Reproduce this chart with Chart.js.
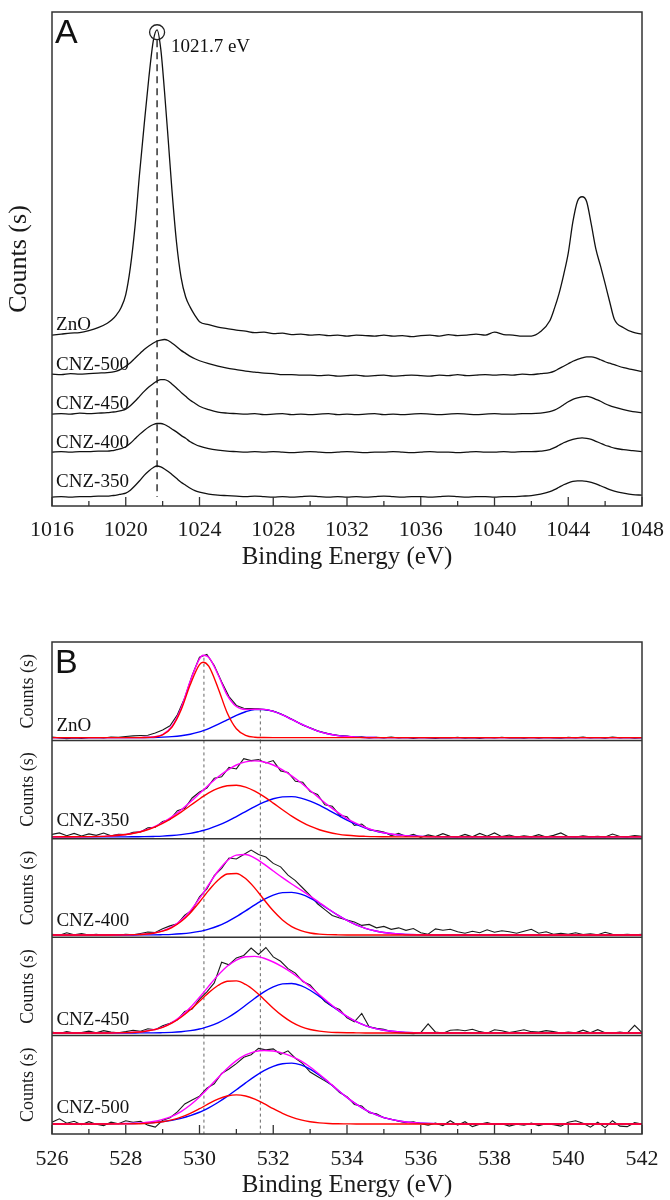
<!DOCTYPE html>
<html>
<head>
<meta charset="utf-8">
<title>XPS Zn 2p and O 1s spectra</title>
<script src="https://cdn.jsdelivr.net/npm/chart.js@4.4.1/dist/chart.umd.min.js"></script>
<style>
  html, body { margin: 0; padding: 0; background: #fff; }
  #wrap { position: relative; width: 670px; height: 1200px; overflow: hidden; }
  #chartA { position: absolute; left: 0; top: 0; }
  #chartB { position: absolute; left: 0; top: 600px; }
</style>
</head>
<body>
<div id="wrap">
  <canvas id="chartA" width="670" height="600"></canvas>
  <canvas id="chartB" width="670" height="600"></canvas>
</div>
<script>
// ---------- Panel A : Zn 2p (curves are stacked by the instrument offsets) ----------
const energyA = [
  1016, 1016.5, 1017, 1017.5, 1018, 1018.5, 1019,
  1019.25, 1019.5, 1019.75, 1020, 1020.25, 1020.5, 1020.75, 1021, 1021.25, 1021.5,
  1021.7, 1021.9, 1022.1, 1022.3, 1022.5,
  1022.75, 1023, 1023.25, 1023.5, 1023.75, 1024,
  1024.5, 1025, 1025.5, 1026, 1026.5, 1027, 1027.5, 1028, 1028.5, 1029, 1029.5, 1030, 1030.5,
  1031, 1031.5, 1032, 1032.5, 1033, 1033.5, 1034, 1034.5, 1035, 1035.5, 1036, 1036.5, 1037,
  1037.5, 1038, 1038.5, 1039, 1039.5, 1040, 1040.5, 1041, 1041.5, 1042, 1042.5,
  1043, 1043.25, 1043.5, 1043.75, 1044, 1044.25, 1044.5, 1044.75, 1045, 1045.25, 1045.5, 1045.75, 1046, 1046.25,
  1046.5, 1047, 1047.5, 1048
];
const zno2p = [
  34.6, 34.8, 35.0, 35.1, 35.5, 36.1, 37.0,
  37.7, 38.7, 40.2, 42.8, 48.3, 56.5, 67.3, 77.2, 86.6, 94.3,
  96.4, 92.5, 84.0, 74.3, 64.2,
  53.5, 46.3, 42.3, 40.2, 38.6, 37.3,
  36.7, 36.2, 35.9, 35.6, 35.4, 35.1, 35.2, 34.9, 35.0, 34.7, 34.8, 34.6, 34.7,
  34.5, 34.6, 34.4, 34.6, 34.5, 34.4, 34.6, 34.4, 34.5, 34.3, 34.5, 34.6, 34.4,
  34.7, 34.5, 34.6, 34.8, 34.6, 35.2, 34.7, 34.6, 34.4, 34.4, 35.3,
  37.5, 40.0, 43.0, 46.8, 51.2, 57.5, 61.7, 62.6, 61.6, 57.0, 52.0, 48.6, 45.0, 41.3,
  37.8, 36.1, 35.2, 34.8
];
const cnz500Zn = [
  26.7, 26.6, 26.8, 26.7, 26.8, 26.9, 27.0,
  27.1, 27.3, 27.7, 28.3, 29.0, 29.9, 30.8, 31.7, 32.4, 33.0,
  33.4, 33.6, 33.7, 33.5, 33.0,
  32.3, 31.5, 30.9, 30.3, 29.8, 29.4,
  28.8, 28.3, 27.9, 27.6, 27.3, 27.1, 26.9, 26.8, 26.6, 26.6, 26.5, 26.5, 26.4,
  26.5, 26.3, 26.4, 26.5, 26.3, 26.4, 26.5, 26.3, 26.4, 26.5, 26.4, 26.3, 26.5,
  26.4, 26.6, 26.4, 26.5, 26.6, 26.5, 26.6, 26.5, 26.7, 26.6, 26.8,
  27.0, 27.3, 27.8, 28.3, 28.8, 29.3, 29.7, 30.0, 30.2, 30.2, 30.0, 29.6, 29.2, 28.9,
  28.6, 28.0, 27.6, 27.2
];
const cnz450Zn = [
  18.6, 18.7, 18.6, 18.8, 18.7, 18.8, 18.9,
  19.0, 19.1, 19.3, 19.6, 20.3, 21.2, 22.2, 23.2, 24.1, 24.8,
  25.3, 25.6, 25.6, 25.3, 24.7,
  23.9, 23.0, 22.2, 21.4, 20.8, 20.2,
  19.5, 19.0, 18.8, 18.7, 18.6, 18.7, 18.5, 18.6, 18.7, 18.5, 18.6, 18.5, 18.6,
  18.7, 18.5, 18.6, 18.5, 18.6, 18.7, 18.5, 18.6, 18.5, 18.6, 18.7, 18.6, 18.5,
  18.6, 18.7, 18.6, 18.5, 18.6, 18.7, 18.6, 18.6, 18.7, 18.7, 18.8,
  19.1, 19.4, 19.9, 20.5, 21.1, 21.6, 21.9, 22.1, 22.2, 22.0, 21.6, 21.2, 20.7, 20.3,
  20.0, 19.5, 19.1, 18.9
];
const cnz400Zn = [
  10.9, 11.0, 10.9, 11.0, 11.0, 11.1, 11.1,
  11.2, 11.4, 11.6, 12.0, 12.7, 13.6, 14.5, 15.3, 16.0, 16.5,
  16.7, 16.7, 16.5, 16.1, 15.6,
  15.0, 14.3, 13.7, 13.0, 12.5, 12.1,
  11.6, 11.3, 11.1, 11.0, 10.9, 11.0, 10.9, 11.0, 10.9, 10.8, 10.9, 11.0, 10.9,
  10.8, 10.9, 11.0, 10.9, 10.8, 10.9, 10.9, 11.0, 10.9, 10.8, 10.9, 11.0, 10.9,
  10.9, 10.8, 10.9, 11.0, 10.9, 10.9, 11.0, 10.9, 11.0, 11.0, 11.1,
  11.4, 11.8, 12.3, 12.8, 13.2, 13.5, 13.7, 13.8, 13.7, 13.5, 13.1, 12.7, 12.3, 12.0,
  11.7, 11.4, 11.2, 11.0
];
const cnz350Zn = [
  1.8, 1.9, 1.8, 1.9, 1.9, 2.0, 2.0,
  2.1, 2.2, 2.4, 2.6, 3.2, 4.1, 5.1, 6.2, 7.1, 7.8,
  8.1, 7.9, 7.5, 7.0, 6.4,
  5.6, 4.8, 4.2, 3.6, 3.1, 2.8,
  2.4, 2.2, 2.1, 2.0, 1.9, 2.0, 1.9, 1.8, 1.9, 1.8, 1.9, 2.0, 1.9,
  1.8, 1.9, 1.8, 1.9, 1.8, 1.9, 2.0, 1.9, 1.8, 1.9, 1.9, 1.8, 1.9,
  2.0, 1.9, 1.8, 1.9, 1.9, 1.8, 1.9, 1.9, 2.0, 2.1, 2.4,
  2.9, 3.3, 3.8, 4.3, 4.7, 5.0, 5.1, 5.1, 5.0, 4.8, 4.5, 4.1, 3.7, 3.3,
  3.0, 2.6, 2.3, 2.2
];
const samplesA = ['ZnO', 'CNZ-500', 'CNZ-450', 'CNZ-400', 'CNZ-350'];
const labelLevelA = [35.6, 27.5, 19.6, 11.7, 3.8];
const ticksA = [1016, 1020, 1024, 1028, 1032, 1036, 1040, 1044, 1048];
const minorTicksA = [1018, 1022, 1026, 1030, 1034, 1038, 1042, 1046];
const peakEnergyA = 1021.7;
const peakMarkA = 95.9;
const dashSpanA = [94.3, 1.8];

// ---------- Panel B : O 1s, measured spectra and two-component fits ----------
const energyB = [
  526, 526.2, 526.4, 526.6, 526.8, 527, 527.2, 527.4, 527.6, 527.8,
  528, 528.2, 528.4, 528.6, 528.8, 529, 529.2, 529.4, 529.6, 529.8,
  530, 530.2, 530.4, 530.6, 530.8, 531, 531.2, 531.4, 531.6, 531.8,
  532, 532.2, 532.4, 532.6, 532.8, 533, 533.2, 533.4, 533.6, 533.8,
  534, 534.2, 534.4, 534.6, 534.8, 535, 535.2, 535.4, 535.6, 535.8,
  536, 536.2, 536.4, 536.6, 536.8, 537, 537.2, 537.4, 537.6, 537.8,
  538, 538.2, 538.4, 538.6, 538.8, 539, 539.2, 539.4, 539.6, 539.8,
  540, 540.2, 540.4, 540.6, 540.8, 541, 541.2, 541.4, 541.6, 541.8,
  542
];
const fitEnergyB = [
  526, 527, 527.5, 528, 528.25, 528.5, 528.75, 529, 529.25, 529.5, 529.75, 530, 530.1,
  530.25, 530.5, 530.75, 531, 531.25, 531.5, 531.75, 532, 532.25, 532.5, 532.75, 533,
  533.25, 533.5, 533.75, 534, 534.25, 534.5, 534.75, 535, 535.5, 536,
  537, 538, 539, 540, 541, 542
];

const oZnO = [
  3.5, 2.6, 1.8, 2.4, 1.9, 2.7, 3.0, 2.5, 3.4, 3.1,
  3.9, 4.6, 5.0, 5.3, 7.5, 10.6, 14.8, 26.0, 43.5, 66.0,
  84.5, 87.3, 76.0, 59.5, 44.5, 35.5, 32.6, 32.3, 32.1, 31.0,
  29.8, 27.2, 23.6, 19.8, 15.5, 12.9, 9.7, 7.8, 6.0, 5.0,
  4.3, 3.1, 3.6, 2.5, 3.2, 2.6, 3.4, 2.4, 2.9, 2.1,
  3.0, 2.6, 1.9, 2.8, 2.4, 3.1, 2.2, 2.8, 2.0, 2.9,
  2.5, 3.2, 2.4, 2.7, 2.2, 3.0, 2.3, 2.9, 2.5, 2.2,
  3.1, 2.6, 3.3, 2.4, 2.9, 2.3, 3.4, 2.6, 2.9, 2.3,
  2.8
];
const oZnORed = [
  2.8, 2.8, 2.8, 2.8, 2.8, 2.9, 3.3, 5.5, 13.2, 30.8, 56.8, 77.0, 79.4,
  75.4, 53.6, 28.1, 11.8, 5.1, 3.2, 2.9, 2.8, 2.8, 2.8, 2.8, 2.8,
  2.8, 2.8, 2.8, 2.8, 2.8, 2.8, 2.8, 2.8, 2.8, 2.8,
  2.8, 2.8, 2.8, 2.8, 2.8, 2.8
];
const oZnOBlue = [
  2.8, 2.8, 2.8, 2.8, 2.8, 2.9, 3.0, 3.3, 3.8, 4.7, 6.3, 8.7, 9.9,
  12.0, 16.2, 20.8, 25.4, 29.1, 31.3, 31.4, 29.5, 25.9, 21.4, 16.7, 12.5,
  9.0, 6.5, 4.9, 3.9, 3.3, 3.0, 2.9, 2.8, 2.8, 2.8,
  2.8, 2.8, 2.8, 2.8, 2.8, 2.8
];
const oZnOEnv = [
  2.8, 2.8, 2.8, 2.8, 2.8, 3.0, 3.5, 6.0, 14.2, 32.7, 60.3, 82.9, 86.5,
  84.6, 67.0, 46.1, 34.4, 31.4, 31.7, 31.5, 29.5, 25.9, 21.4, 16.7, 12.5,
  9.0, 6.5, 4.9, 3.9, 3.3, 3.0, 2.9, 2.8, 2.8, 2.8,
  2.8, 2.8, 2.8, 2.8, 2.8, 2.8
];

const o350 = [
  4.5, 6.0, 3.2, 5.5, 2.8, 5.0, 3.5, 5.8, 3.0, 4.6,
  4.2, 6.5, 7.0, 11.2, 11.8, 17.5, 19.6, 28.5, 31.0, 41.5,
  47.5, 51.5, 61.5, 63.0, 72.5, 71.0, 81.5, 79.5, 80.5, 77.0,
  79.5, 69.0, 67.5, 58.5, 57.5, 48.0, 45.0, 34.5, 33.0, 24.0,
  22.5, 13.5, 15.0, 9.0, 8.5, 6.8, 3.2, 5.5, 2.4, 4.5,
  1.5, 4.0, 2.2, 5.2, 2.5, 1.8, 4.5, 2.0, 5.5, 2.6,
  6.0, 2.2, 3.8, 1.8, 3.0, 2.0, 4.2, 1.8, 3.5, 6.0,
  2.2, 1.9, 3.0, 2.0, 2.5, 1.8, 4.8, 2.4, 2.0, 3.4,
  2.5
];
const o350Red = [
  2.0, 2.2, 2.7, 4.3, 5.9, 8.2, 11.4, 15.7, 21.0, 27.1, 33.8, 40.5, 43.1,
  46.6, 51.2, 53.9, 54.4, 52.5, 48.4, 42.8, 36.3, 29.5, 23.1, 17.5, 12.8,
  9.2, 6.6, 4.8, 3.6, 2.9, 2.5, 2.2, 2.1, 2.0, 2.0,
  2.0, 2.0, 2.0, 2.0, 2.0, 2.0
];
const o350Blue = [
  2.0, 2.0, 2.0, 2.0, 2.1, 2.2, 2.4, 2.7, 3.3, 4.2, 5.5, 7.5, 8.4,
  10.1, 13.6, 17.7, 22.6, 27.7, 32.8, 37.3, 40.7, 42.6, 42.9, 41.4, 38.3,
  34.1, 29.1, 24.0, 19.0, 14.7, 11.0, 8.1, 6.0, 3.5, 2.5,
  2.0, 2.0, 2.0, 2.0, 2.0, 2.0
];
const o350Env = [
  2.0, 2.2, 2.7, 4.3, 6.0, 8.4, 11.8, 16.4, 22.3, 29.3, 37.3, 46.0, 49.5,
  54.7, 62.8, 69.6, 75.0, 78.2, 79.2, 78.1, 75.0, 70.1, 64.0, 56.9, 49.1,
  41.3, 33.7, 26.8, 20.6, 15.6, 11.5, 8.3, 6.1, 3.5, 2.5,
  2.0, 2.0, 2.0, 2.0, 2.0, 2.0
];

const o400 = [
  3.0, 2.0, 4.5, 2.5, 3.6, 2.2, 3.0, 2.0, 2.8, 2.3,
  3.0, 2.5, 3.8, 5.2, 4.8, 8.5, 11.5, 13.6, 22.5, 27.5,
  41.0, 49.0, 62.5, 70.0, 80.5, 79.5, 84.0, 88.5, 84.0, 81.5,
  75.0, 71.5, 63.0, 57.5, 50.0, 42.5, 34.0, 28.0, 22.0, 19.5,
  17.5, 15.5, 12.0, 13.0, 9.5, 11.0, 8.0, 9.5, 7.0, 8.8,
  4.5, 3.0, 8.5, 7.0, 8.0, 5.5, 4.0, 6.0, 4.5, 7.5,
  5.0, 6.5, 5.5, 4.0, 6.0, 8.0, 4.0, 5.5, 3.0, 4.0,
  3.0, 4.5, 2.8, 3.5, 2.5, 5.0, 3.0, 2.5, 3.0, 2.5,
  3.0
];
const o400Red = [
  2.3, 2.3, 2.3, 2.4, 2.6, 3.0, 4.0, 6.1, 9.8, 15.9, 24.7, 35.8, 40.5,
  47.6, 57.9, 64.2, 64.8, 59.6, 49.9, 38.1, 26.8, 17.5, 10.8, 6.7, 4.3,
  3.1, 2.6, 2.4, 2.3, 2.3, 2.3, 2.3, 2.3, 2.3, 2.3,
  2.3, 2.3, 2.3, 2.3, 2.3, 2.3
];
const o400Blue = [
  2.3, 2.3, 2.3, 2.3, 2.3, 2.4, 2.4, 2.6, 2.9, 3.5, 4.4, 5.9, 6.7,
  8.2, 11.4, 15.7, 20.9, 26.7, 32.8, 38.4, 42.8, 45.3, 45.6, 43.7, 39.8,
  34.4, 28.4, 22.4, 17.0, 12.5, 9.0, 6.5, 4.8, 3.0, 2.5,
  2.3, 2.3, 2.3, 2.3, 2.3, 2.3
];
const o400Env = [
  2.3, 2.3, 2.3, 2.4, 2.6, 3.1, 4.1, 6.4, 10.4, 17.1, 26.8, 39.4, 44.9,
  53.5, 67.0, 77.6, 83.4, 84.0, 80.4, 74.2, 67.3, 60.5, 54.1, 48.1, 41.8,
  35.2, 28.7, 22.5, 17.0, 12.5, 9.0, 6.5, 4.8, 3.0, 2.5,
  2.3, 2.3, 2.3, 2.3, 2.3, 2.3
];

const o450 = [
  3.5, 2.2, 4.0, 2.5, 3.0, 4.5, 2.8, 5.0, 3.5, 2.9,
  4.0, 5.5, 4.5, 7.0, 6.0, 10.0, 12.5, 16.0, 24.5, 27.0,
  37.0, 44.5, 53.5, 74.5, 72.0, 79.0, 81.5, 89.0, 82.5, 89.5,
  80.0, 75.5, 68.0, 63.5, 55.0, 51.5, 43.0, 34.5, 29.5, 26.5,
  18.0, 14.0, 22.5, 9.0, 7.5, 6.5, 4.0, 3.0, 2.5, 2.0,
  3.0, 12.0, 3.5, 2.5, 5.5, 6.0, 5.0, 6.5, 4.0, 2.5,
  6.0, 5.0, 3.0, 4.5, 6.0, 4.0, 3.5, 5.0, 4.0, 2.5,
  3.5, 2.8, 5.5, 3.0, 6.0, 3.0, 2.5, 3.5, 2.5, 10.5,
  3.0
];
const o450Red = [
  2.7, 2.7, 2.7, 3.0, 3.4, 4.2, 5.8, 8.4, 12.6, 18.6, 26.2, 35.0, 38.5,
  43.7, 50.9, 55.2, 55.6, 52.0, 45.3, 36.8, 27.9, 20.0, 13.7, 9.1, 6.2,
  4.5, 3.5, 3.1, 2.9, 2.8, 2.7, 2.7, 2.7, 2.7, 2.7,
  2.7, 2.7, 2.7, 2.7, 2.7, 2.7
];
const o450Blue = [
  2.7, 2.7, 2.7, 2.7, 2.7, 2.8, 2.8, 3.0, 3.3, 3.9, 5.0, 6.7, 7.6,
  9.3, 13.0, 17.9, 23.9, 30.8, 37.9, 44.5, 49.6, 52.6, 53.0, 50.7, 46.1,
  39.8, 32.8, 25.8, 19.4, 14.2, 10.2, 7.3, 5.4, 3.5, 2.9,
  2.7, 2.7, 2.7, 2.7, 2.7, 2.7
];
const o450Env = [
  2.7, 2.7, 2.7, 3.0, 3.4, 4.3, 5.9, 8.7, 13.2, 19.8, 28.5, 39.0, 43.4,
  50.3, 61.2, 70.4, 76.8, 80.1, 80.5, 78.6, 74.8, 69.9, 64.0, 57.1, 49.6,
  41.6, 33.6, 26.2, 19.6, 14.3, 10.2, 7.3, 5.4, 3.5, 2.9,
  2.7, 2.7, 2.7, 2.7, 2.7, 2.7
];

const o500 = [
  12.0, 15.5, 11.0, 13.0, 9.5, 12.5, 10.0, 8.5, 12.0, 10.5,
  13.5, 12.0, 13.0, 9.0, 7.0, 14.0, 16.5, 22.5, 30.5, 34.5,
  38.5, 46.5, 51.0, 61.5, 66.0, 71.5, 78.0, 80.5, 87.0, 85.5,
  86.5, 81.0, 84.5, 77.0, 71.5, 63.0, 58.5, 54.0, 49.5, 42.0,
  38.0, 30.0, 28.5, 21.5, 20.5, 16.5, 15.0, 13.0, 11.5, 12.5,
  10.5, 9.0, 11.0, 8.5, 13.5, 9.0, 12.5, 7.5, 10.0, 11.5,
  9.5, 10.5, 8.0, 10.0, 9.0, 11.0, 8.5, 10.5, 9.5, 8.0,
  12.0, 13.5, 11.0, 7.0, 12.0, 6.5, 13.5, 8.0, 7.5, 11.5,
  10.0
];
const o500Red = [
  10.2, 10.2, 10.2, 10.3, 10.4, 10.7, 11.3, 12.4, 14.3, 17.1, 21.0, 25.7, 27.7,
  30.8, 35.4, 38.6, 39.8, 38.6, 35.4, 30.8, 25.7, 21.0, 17.1, 14.3, 12.4,
  11.3, 10.7, 10.4, 10.3, 10.2, 10.2, 10.2, 10.2, 10.2, 10.2,
  10.2, 10.2, 10.2, 10.2, 10.2, 10.2
];
const o500Blue = [
  10.2, 10.2, 10.3, 10.5, 10.7, 11.1, 11.6, 12.6, 13.9, 15.9, 18.6, 22.1, 23.8,
  26.6, 32.0, 38.2, 45.0, 51.9, 58.5, 64.3, 68.8, 71.4, 72.0, 70.2, 65.9,
  59.7, 52.4, 44.6, 37.1, 30.3, 24.6, 20.1, 16.7, 12.7, 11.0,
  10.2, 10.2, 10.2, 10.2, 10.2, 10.2
];
const o500Env = [
  10.2, 10.2, 10.3, 10.6, 10.9, 11.6, 12.7, 14.8, 18.0, 22.8, 29.4, 37.6, 41.3,
  47.2, 57.2, 66.6, 74.6, 80.3, 83.7, 84.9, 84.3, 82.2, 78.9, 74.3, 68.1,
  60.8, 52.9, 44.8, 37.2, 30.3, 24.6, 20.1, 16.7, 12.7, 11.0,
  10.2, 10.2, 10.2, 10.2, 10.2, 10.2
];

const samplesB = ['ZnO', 'CNZ-350', 'CNZ-400', 'CNZ-450', 'CNZ-500'];
const labelLevelB = [9.3, 13.1, 11.1, 11.1, 21.1];
const ticksB = [526, 528, 530, 532, 534, 536, 538, 540, 542];
const minorTicksB = [527, 529, 531, 533, 535, 537, 539, 541];
const refLinesB = [530.12, 531.65];
const refTopZnO = [84, 31.5];

// ---------- drawing ----------
const ink = '#1a1a1a';
const serif = "'Liberation Serif', 'Times New Roman', serif";
const sans = "'Liberation Sans', Arial, sans-serif";

function pts(xs, ys) {
  return xs.map(function (x, i) { return { x: x, y: ys[i] }; });
}

// frame, inward ticks, panel letter and sample names
const decorPlugin = {
  id: 'decor',
  afterDatasetsDraw(chart, args, o) {
    const ctx = chart.ctx, a = chart.chartArea, sx = chart.scales.x;
    function tick(v, len) {
      const px = sx.getPixelForValue(v);
      ctx.beginPath();
      ctx.moveTo(px, a.bottom);
      ctx.lineTo(px, a.bottom - len);
      ctx.stroke();
    }
    ctx.save();
    ctx.strokeStyle = '#333';
    ctx.lineWidth = 1.5;
    ctx.strokeRect(a.left, a.top, a.right - a.left, a.bottom - a.top);
    (o.separators || []).forEach(function (id) {
      const yb = chart.scales[id].bottom;
      ctx.beginPath();
      ctx.moveTo(a.left, yb);
      ctx.lineTo(a.right, yb);
      ctx.stroke();
    });
    ctx.lineWidth = 1.3;
    o.major.forEach(function (v) { tick(v, 9); });
    o.minor.forEach(function (v) { tick(v, 5); });

    ctx.fillStyle = '#111';
    ctx.textAlign = 'left';
    ctx.textBaseline = 'alphabetic';
    ctx.font = '34px ' + sans;
    ctx.fillText(o.letter, a.left + 3, a.top + 31);
    o.labels.forEach(function (l) {
      ctx.font = l.size + 'px ' + serif;
      ctx.fillText(l.text, sx.getPixelForValue(l.x), chart.scales[l.axis].getPixelForValue(l.y));
    });
    ctx.restore();
  }
};

function xScale(min, max, ticks, height, titlePad, tickPad) {
  return {
    type: 'linear', min: min, max: max,
    afterBuildTicks: function (s) { s.ticks = ticks.map(function (v) { return { value: v }; }); },
    ticks: {
      color: ink, padding: tickPad, maxRotation: 0, autoSkip: false,
      font: { family: serif, size: 22 },
      callback: function (v) { return String(v); }
    },
    grid: { display: false },
    border: { display: false },
    title: {
      display: true, text: 'Binding Energy (eV)', color: ink,
      font: { family: serif, size: 25 }, padding: { top: 0, bottom: titlePad }
    },
    afterFit: function (s) { s.height = height; }
  };
}

// Panel A
const datasetsA = [zno2p, cnz500Zn, cnz450Zn, cnz400Zn, cnz350Zn].map(function (t) {
  return {
    data: pts(energyA, t), borderColor: '#111', borderWidth: 1.3,
    pointRadius: 0, cubicInterpolationMode: 'monotone', order: 1
  };
});
datasetsA.push({
  data: [{ x: peakEnergyA, y: dashSpanA[0] }, { x: peakEnergyA, y: dashSpanA[1] }],
  borderColor: '#555', borderWidth: 1.8, borderDash: [7, 5], pointRadius: 0, order: 2
});
datasetsA.push({
  data: [{ x: peakEnergyA, y: peakMarkA }], showLine: false,
  pointRadius: 7.5, pointBorderWidth: 1.3, pointBorderColor: '#222',
  pointBackgroundColor: 'rgba(0,0,0,0)', order: 0
});

const labelsA = samplesA.map(function (s, i) {
  return { text: s, x: 1016.22, y: labelLevelA[i], axis: 'y', size: 19 };
});
labelsA.push({ text: peakEnergyA.toFixed(1) + ' eV', x: 1022.45, y: 91.9, axis: 'y', size: 19 });

new Chart(document.getElementById('chartA'), {
  type: 'line',
  data: { datasets: datasetsA },
  options: {
    responsive: false, animation: false,
    layout: { padding: { left: 0, right: 28, top: 12, bottom: 0 } },
    plugins: {
      legend: { display: false }, tooltip: { enabled: false },
      decor: { letter: 'A', major: ticksA, minor: minorTicksA, labels: labelsA }
    },
    scales: {
      x: xScale(1016, 1048, ticksA, 94, 28, 3),
      y: {
        type: 'linear', min: 0, max: 100,
        ticks: { display: false }, grid: { display: false }, border: { display: false },
        title: {
          display: true, text: 'Counts (s)', color: ink,
          font: { family: serif, size: 26 }, padding: { top: 4, bottom: 0 }
        },
        afterFit: function (s) { s.width = 52; }
      }
    }
  },
  plugins: [decorPlugin]
});

// Panel B : one y axis per sample, stacked on the left
const panelsB = [
  { id: 'yZnO', raw: oZnO, red: oZnORed, blue: oZnOBlue, env: oZnOEnv },
  { id: 'y350', raw: o350, red: o350Red, blue: o350Blue, env: o350Env },
  { id: 'y400', raw: o400, red: o400Red, blue: o400Blue, env: o400Env },
  { id: 'y450', raw: o450, red: o450Red, blue: o450Blue, env: o450Env },
  { id: 'y500', raw: o500, red: o500Red, blue: o500Blue, env: o500Env }
];

const datasetsB = [];
panelsB.forEach(function (p, k) {
  datasetsB.push({ yAxisID: p.id, data: pts(energyB, p.raw), borderColor: '#1a1a1a', borderWidth: 1.1, pointRadius: 0, tension: 0, order: 3 });
  datasetsB.push({ yAxisID: p.id, data: pts(fitEnergyB, p.blue), borderColor: '#0000ff', borderWidth: 1.4, pointRadius: 0, cubicInterpolationMode: 'monotone', order: 2 });
  datasetsB.push({ yAxisID: p.id, data: pts(fitEnergyB, p.env), borderColor: '#ff00ff', borderWidth: 1.4, pointRadius: 0, cubicInterpolationMode: 'monotone', order: 1 });
  datasetsB.push({ yAxisID: p.id, data: pts(fitEnergyB, p.red), borderColor: '#ff0000', borderWidth: 1.4, pointRadius: 0, cubicInterpolationMode: 'monotone', order: 0 });
  refLinesB.forEach(function (e, j) {
    const top = k === 0 ? refTopZnO[j] : 100;
    datasetsB.push({
      yAxisID: p.id, data: [{ x: e, y: top }, { x: e, y: 0 }],
      borderColor: '#666', borderWidth: 1, borderDash: [3, 3], pointRadius: 0, order: 4
    });
  });
});

const scalesB = { x: xScale(526, 542, ticksB, 66, 0, 4) };
// left stacked axes are laid out last-defined on top, so add them bottom first
panelsB.slice().reverse().forEach(function (p) {
  scalesB[p.id] = {
    type: 'linear', position: 'left', stack: 'samples', stackWeight: 1,
    min: 0, max: 100, offset: false,
    ticks: { display: false }, grid: { display: false }, border: { display: false },
    title: {
      display: true, text: 'Counts (s)', color: ink,
      font: { family: serif, size: 18 }, padding: { top: 17, bottom: 0 }
    },
    afterFit: function (s) { s.width = 52; }
  };
});

const labelsB = samplesB.map(function (s, i) {
  return { text: s, x: 526.12, y: labelLevelB[i], axis: panelsB[i].id, size: 19 };
});

new Chart(document.getElementById('chartB'), {
  type: 'line',
  data: { datasets: datasetsB },
  options: {
    responsive: false, animation: false,
    layout: { padding: { left: 0, right: 28, top: 42, bottom: 0 } },
    plugins: {
      legend: { display: false }, tooltip: { enabled: false },
      decor: {
        letter: 'B', major: ticksB, minor: minorTicksB, labels: labelsB,
        separators: ['yZnO', 'y350', 'y400', 'y450']
      }
    },
    scales: scalesB
  },
  plugins: [decorPlugin]
});
</script>
</body>
</html>
